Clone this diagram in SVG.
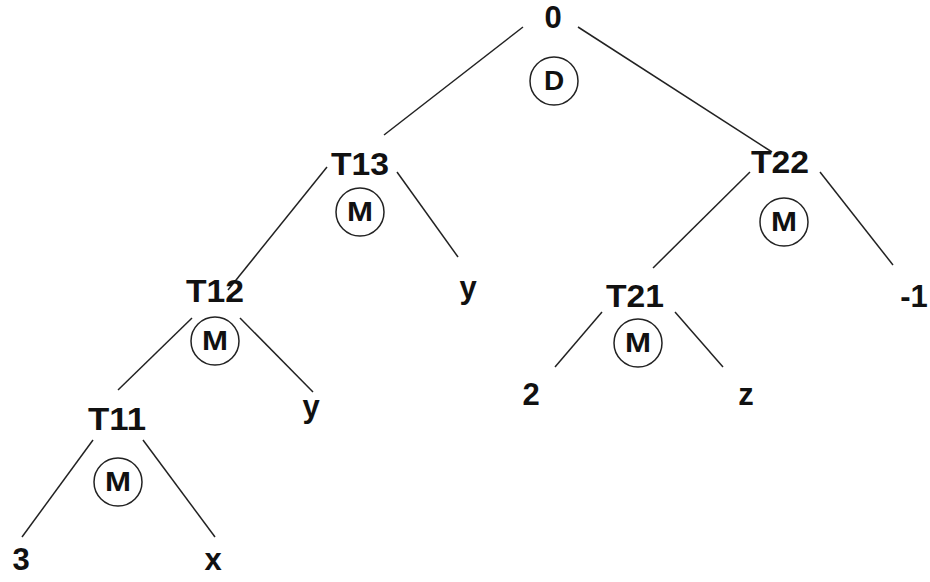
<svg xmlns="http://www.w3.org/2000/svg" width="930" height="582" viewBox="0 0 930 582">
<style>
.lbl{font-family:"Liberation Sans",Arial,sans-serif;font-weight:bold;font-size:31px;fill:#111;text-anchor:middle}
.op{font-family:"Liberation Sans",Arial,sans-serif;font-weight:bold;font-size:28px;fill:#111;text-anchor:middle}
.ring{fill:none;stroke:#222;stroke-width:1.5}
.edge{stroke:#222;stroke-width:1.5;fill:none}
</style>
<rect width="930" height="582" fill="#fff"/>
<g id="connectors">
<line class="edge" x1="523" y1="27" x2="384" y2="135"/>
<line class="edge" x1="578" y1="27" x2="772" y2="152"/>
<line class="edge" x1="327" y1="167" x2="228" y2="290"/>
<line class="edge" x1="397" y1="172" x2="458" y2="257"/>
<line class="edge" x1="750" y1="172" x2="653" y2="268"/>
<line class="edge" x1="820" y1="172" x2="893" y2="265"/>
<line class="edge" x1="192" y1="318" x2="118" y2="390"/>
<line class="edge" x1="240" y1="318" x2="313" y2="392"/>
<line class="edge" x1="602" y1="312" x2="555" y2="367"/>
<line class="edge" x1="675" y1="312" x2="723" y2="367"/>
<line class="edge" x1="93" y1="440" x2="22" y2="537"/>
<line class="edge" x1="143" y1="440" x2="215" y2="537"/>
</g>
<g id="n0"><text class="lbl" x="553" y="28">0</text><circle class="ring" cx="554" cy="81" r="24"/><text class="op" x="554" y="90">D</text></g>
<g id="nT13"><text class="lbl" x="360" y="175" textLength="58" lengthAdjust="spacingAndGlyphs">T13</text><circle class="ring" cx="360" cy="212" r="24"/><text class="op" x="360" y="221" textLength="26" lengthAdjust="spacingAndGlyphs">M</text></g>
<g id="nT22"><text class="lbl" x="780" y="173" textLength="58" lengthAdjust="spacingAndGlyphs">T22</text><circle class="ring" cx="784" cy="222" r="24"/><text class="op" x="784" y="231" textLength="26" lengthAdjust="spacingAndGlyphs">M</text></g>
<g id="nT12"><text class="lbl" x="215" y="302" textLength="58" lengthAdjust="spacingAndGlyphs">T12</text><circle class="ring" cx="215" cy="341" r="24"/><text class="op" x="215" y="350" textLength="26" lengthAdjust="spacingAndGlyphs">M</text></g>
<g id="nT21"><text class="lbl" x="635" y="307" textLength="58" lengthAdjust="spacingAndGlyphs">T21</text><circle class="ring" cx="638" cy="343" r="24"/><text class="op" x="638" y="352" textLength="26" lengthAdjust="spacingAndGlyphs">M</text></g>
<g id="nT11"><text class="lbl" x="117" y="430" textLength="58" lengthAdjust="spacingAndGlyphs">T11</text><circle class="ring" cx="118" cy="482" r="24"/><text class="op" x="118" y="491" textLength="26" lengthAdjust="spacingAndGlyphs">M</text></g>
<g id="ny1"><text class="lbl" x="468" y="298">y</text></g>
<g id="nm1"><text class="lbl" x="914" y="307">-1</text></g>
<g id="ny2"><text class="lbl" x="311" y="417">y</text></g>
<g id="n2"><text class="lbl" x="531" y="405">2</text></g>
<g id="nz"><text class="lbl" x="746" y="405">z</text></g>
<g id="n3"><text class="lbl" x="21" y="570">3</text></g>
<g id="nx"><text class="lbl" x="213" y="570">x</text></g>
</svg>
